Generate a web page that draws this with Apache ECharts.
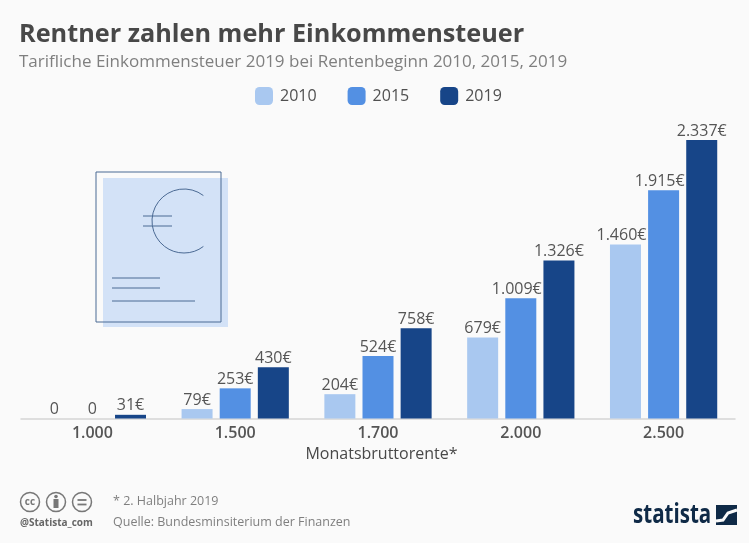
<!DOCTYPE html>
<html>
<head>
<meta charset="utf-8">
<style>
html,body{margin:0;padding:0;background:#fafafa}
#chart{width:749px;height:543px}
</style>
<script src="https://cdn.jsdelivr.net/npm/echarts@6/dist/echarts.min.js"></script>
</head>
<body>
<div id="chart"></div>
<script>
var categories = ['1.000', '1.500', '1.700', '2.000', '2.500'];
var values2010 = [0, 79, 204, 679, 1460];
var values2015 = [0, 253, 524, 1009, 1915];
var values2019 = [31, 430, 758, 1326, 2337];
var seriesNames = ['2010', '2015', '2019'];
var colors = ['#a9c8f0', '#5390e3', '#174588'];

var font = '"Open Sans", sans-serif';
var myChart = echarts.init(document.getElementById('chart'));

function fmtLabel(p) {
	if (p.value === 0) return '0';
	return p.value.toLocaleString('de-DE') + '€';
}

// long labels in the first two series move left so they clear the next bar
function makeSeries(name, data, color, nudge) {
	return {
		name: name,
		type: 'bar',
		data: data.map(function (v) {
			return {value: v, label: {offset: [nudge && v >= 1000 ? -4 : 0, 0]}};
		}),
		barWidth: 31,
		barGap: '23%',
		itemStyle: {color: color},
		label: {
			show: true,
			position: 'top',
			distance: 1,
			formatter: fmtLabel,
			fontFamily: font,
			fontSize: 16,
			color: '#555555'
		}
	};
}

function line(x1, y1, x2, y2, color, width) {
	return {
		type: 'line',
		shape: {x1: x1, y1: y1, x2: x2, y2: y2},
		style: {stroke: color, lineWidth: width || 1}
	};
}

function txt(x, y, text, size, color, weight) {
	return {
		type: 'text',
		x: x,
		y: y,
		style: {text: text, font: (weight || 'normal') + ' ' + size + 'px ' + font, fill: color}
	};
}

var iconColor = '#4b6a94';
var ccColor = '#777777';
var logoColor = '#0f2a47';

var logoText = txt(633, 503, 'statista', 26, logoColor, 'bold');
logoText.scaleX = 0.79;

var ccText = txt(30, 502, 'cc', 10, ccColor, 'bold');
ccText.style.textAlign = 'center';
ccText.style.textVerticalAlign = 'middle';

var option = {
	backgroundColor: '#fafafa',
	animation: false,
	textStyle: {fontFamily: font},
	title: {
		text: 'Rentner zahlen mehr Einkommensteuer',
		subtext: 'Tarifliche Einkommensteuer 2019 bei Rentenbeginn 2010, 2015, 2019',
		left: 19,
		top: 22,
		itemGap: 7,
		padding: 0,
		textStyle: {fontFamily: font, fontSize: 25.25, fontWeight: 'bold', color: '#484848'},
		subtextStyle: {fontFamily: font, fontSize: 17, color: '#7f7f7f'}
	},
	legend: {
		data: seriesNames,
		left: 255,
		top: 87,
		padding: 0,
		itemWidth: 18,
		itemHeight: 18,
		itemGap: 31,
		icon: 'roundRect',
		textStyle: {fontFamily: font, fontSize: 16, color: '#505050', padding: [0, 0, 0, 2]}
	},
	grid: {left: 21, right: 14, top: 132.5, bottom: 124.5},
	xAxis: {
		type: 'category',
		data: categories,
		name: 'Monatsbruttorente*',
		nameLocation: 'middle',
		nameGap: 28,
		nameTextStyle: {fontFamily: font, fontSize: 16, color: '#484848', fontWeight: 500, padding: [0, 0, 0, 7]},
		axisTick: {show: false},
		axisLine: {lineStyle: {color: '#d5d5d5', width: 1.5}},
		axisLabel: {fontFamily: font, fontSize: 16, fontWeight: 600, color: '#555555', margin: 7}
	},
	yAxis: {
		type: 'value',
		min: 0,
		max: 2400,
		show: false,
		splitLine: {show: false}
	},
	series: [
		makeSeries(seriesNames[0], values2010, colors[0], true),
		makeSeries(seriesNames[1], values2015, colors[1], true),
		makeSeries(seriesNames[2], values2019, colors[2], false)
	],
	graphic: [
		{type: 'rect', shape: {x: 103, y: 178, width: 125, height: 149}, style: {fill: '#d3e2f7'}},
		{type: 'rect', shape: {x: 96, y: 172, width: 125, height: 150}, style: {fill: 'none', stroke: iconColor, lineWidth: 1}},
		{type: 'arc', shape: {cx: 184, cy: 221, r: 32, startAngle: -0.92, endAngle: 0.92, clockwise: false}, style: {fill: 'none', stroke: iconColor, lineWidth: 1}},
		line(143, 216, 172, 216, iconColor),
		line(143, 226, 172, 226, iconColor),
		line(112, 278, 160, 278, iconColor),
		line(112, 288, 160, 288, iconColor),
		line(112, 301, 195, 301, iconColor),

		{type: 'circle', shape: {cx: 30, cy: 502, r: 9.5}, style: {fill: 'none', stroke: ccColor, lineWidth: 1.5}},
		{type: 'circle', shape: {cx: 56, cy: 502, r: 9.5}, style: {fill: 'none', stroke: ccColor, lineWidth: 1.5}},
		{type: 'circle', shape: {cx: 82, cy: 502, r: 9.5}, style: {fill: 'none', stroke: ccColor, lineWidth: 1.5}},
		ccText,
		{type: 'circle', shape: {cx: 56, cy: 496.5, r: 1.8}, style: {fill: ccColor}},
		{type: 'rect', shape: {x: 53.5, y: 499, width: 5, height: 9}, style: {fill: ccColor}},
		line(77.5, 500, 86.5, 500, ccColor, 1.8),
		line(77.5, 504.5, 86.5, 504.5, ccColor, 1.8),
		txt(20, 518, '@Statista_com', 10, '#666666', 'bold'),
		txt(113, 495, '* 2. Halbjahr 2019', 12.5, '#7f7f7f'),
		txt(113, 516, 'Quelle: Bundesminsiterium der Finanzen', 12.5, '#7f7f7f'),

		logoText,
		{type: 'rect', shape: {x: 716, y: 505, width: 21, height: 20}, style: {fill: logoColor}},
		{type: 'polyline', shape: {points: [[716, 521], [723, 520], [728, 513], [737, 510]]}, style: {fill: 'none', stroke: '#fafafa', lineWidth: 3}}
	]
};
myChart.setOption(option);
</script>
</body>
</html>
